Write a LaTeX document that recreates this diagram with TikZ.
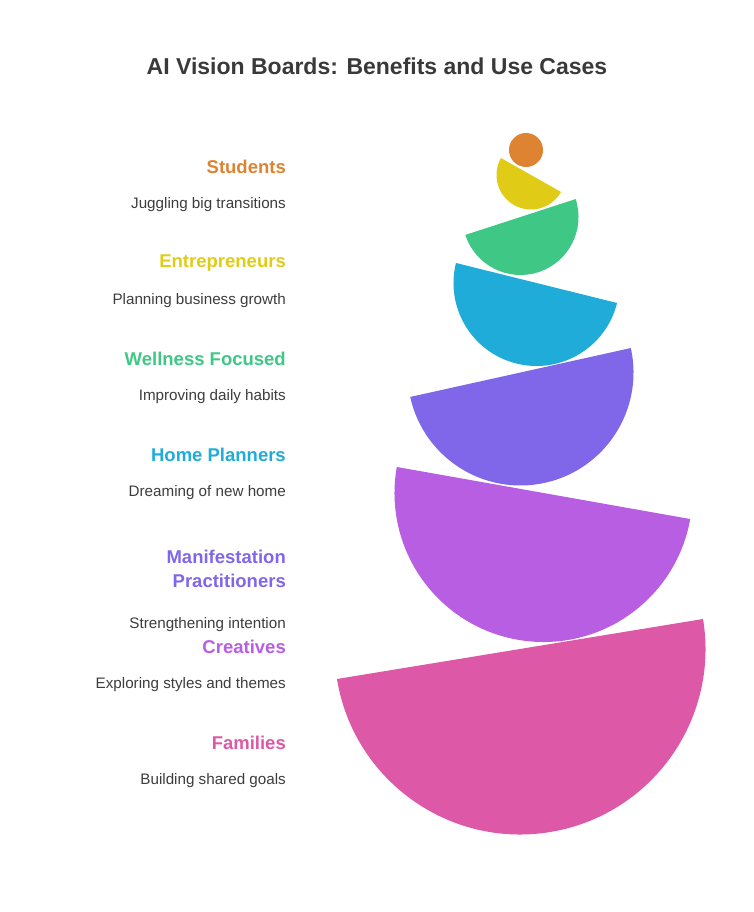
\documentclass[tikz,border=0pt]{standalone}
\usepackage{fontspec}
\setmainfont{Liberation Sans}
\definecolor{cStud}{RGB}{221,131,50}
\definecolor{cEntr}{RGB}{224,204,22}
\definecolor{cWell}{RGB}{62,199,133}
\definecolor{cHome}{RGB}{31,172,217}
\definecolor{cMani}{RGB}{128,102,232}
\definecolor{cCrea}{RGB}{184,94,227}
\definecolor{cFami}{RGB}{221,88,167}
\definecolor{txtgrey}{RGB}{60,60,60}
\begin{document}
\begin{tikzpicture}[x=1pt,y=1pt,
  head/.style={anchor=east,inner sep=0pt,font=\fontsize{18.5}{24}\selectfont\bfseries},
  desc/.style={anchor=east,inner sep=0pt,text=txtgrey,font=\fontsize{15.2}{18}\selectfont}]
  \useasboundingbox (0,0) rectangle (754,912);
  %Titel
  \node[inner sep=0pt,text=txtgrey!95!black,font=\fontsize{23}{27}\selectfont\bfseries] (title) at (377,846) {AI Vision Boards: Benefits and Use Cases};
  %Schalen
  \fill [cFami] (520,263) ++(9.31:185.5) arc[start angle=9.31, end angle=-170.69, radius=185.5] -- cycle;
  \fill [cCrea] (543.5,419) ++(-10.06:149) arc[start angle=-10.06, end angle=-190.06, radius=149] -- cycle;
  \fill [cMani] (520.5,539.5) ++(12.5:113) arc[start angle=12.5, end angle=-167.5, radius=113] -- cycle;
  \fill [cHome] (536.5,629) ++(-13.95:83) arc[start angle=-13.95, end angle=-193.95, radius=83] -- cycle;
  \fill [cWell] (520.5,695) ++(18:58) arc[start angle=18, end angle=-162, radius=58] -- cycle;
  \fill [cEntr] (531,737) ++(-29.5:34.5) arc[start angle=-29.5, end angle=-209.5, radius=34.5] -- cycle;
  \fill [cStud] (526,762) circle (17);
  %Beschriftung
  \node[head,text=cStud] (stud) at (286,745) {Students};
  \node[desc] (studd) at (286,707) {Juggling big transitions};
  \node[head,text=cEntr] (entr) at (286,649) {Entrepreneurs};
  \node[desc] (entrd) at (286,611) {Planning business growth};
  \node[head,text=cWell] (well) at (286,553) {Wellness Focused};
  \node[desc] (welld) at (286,515) {Improving daily habits};
  \node[head,text=cHome] (home) at (286,457) {Home Planners};
  \node[desc] (homed) at (286,419) {Dreaming of new home};
  \node[head,text=cMani,align=right] (mani) at (286,343) {Manifestation\\Practitioners};
  \node[desc] (manid) at (286,287) {Strengthening intention};
  \node[head,text=cCrea] (crea) at (286,265) {Creatives};
  \node[desc] (cread) at (286,227) {Exploring styles and themes};
  \node[head,text=cFami] (fami) at (286,169) {Families};
  \node[desc] (famid) at (286,131) {Building shared goals};
\end{tikzpicture}
\end{document}
